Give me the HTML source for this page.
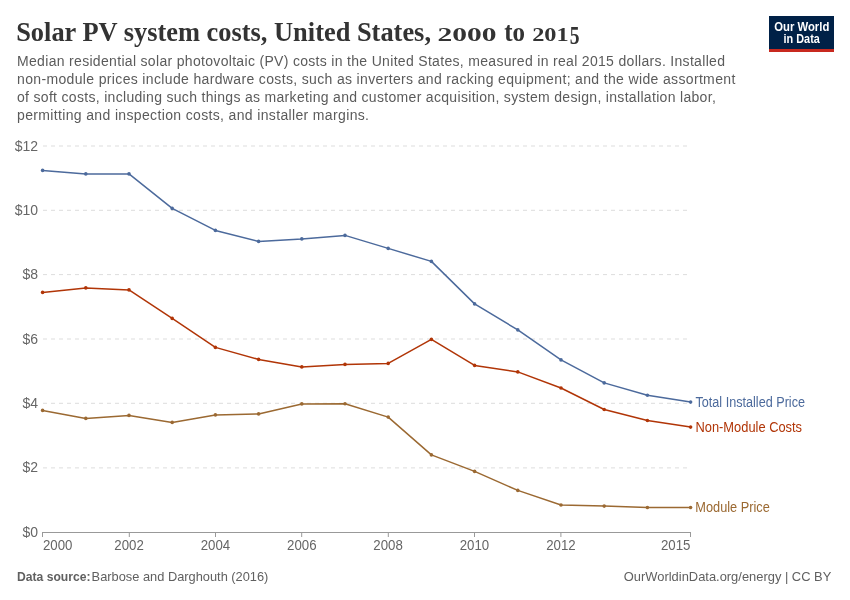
<!DOCTYPE html>
<html><head><meta charset="utf-8">
<style>
html,body{margin:0;padding:0;background:#fff;width:850px;height:600px;overflow:hidden}
svg{display:block;will-change:transform}
.t{font-family:"Liberation Serif",serif;font-weight:bold;fill:#333}
.s{font-family:"Liberation Sans",sans-serif;fill:#5b5b5b}
.ax{font-family:"Liberation Sans",sans-serif;fill:#666;font-size:14px}
</style></head>
<body>
<svg width="850" height="600" viewBox="0 0 850 600">
<rect width="850" height="600" fill="#fff"/>
<!-- title -->
<g class="t">
<text x="16.2" y="40.5" font-size="28" textLength="414.8" lengthAdjust="spacingAndGlyphs">Solar PV system costs, United States,</text>
<text x="437.5" y="40.5" font-size="19" textLength="59" lengthAdjust="spacingAndGlyphs">2000</text>
<text x="504.2" y="40.5" font-size="28" textLength="20.8" lengthAdjust="spacingAndGlyphs">to</text>
<text x="532.2" y="40.5" font-size="19" textLength="36.5" lengthAdjust="spacingAndGlyphs">201</text>
<text x="569.8" y="44" font-size="25" textLength="9.8" lengthAdjust="spacingAndGlyphs">5</text>
</g>
<!-- subtitle -->
<g class="s" font-size="14">
<text x="17" y="66.2" textLength="708" lengthAdjust="spacing">Median residential solar photovoltaic (PV) costs in the United States, measured in real 2015 dollars. Installed</text>
<text x="17" y="84.3" textLength="718.3" lengthAdjust="spacing">non-module prices include hardware costs, such as inverters and racking equipment; and the wide assortment</text>
<text x="17" y="102.2" textLength="698.8" lengthAdjust="spacing">of soft costs, including such things as marketing and customer acquisition, system design, installation labor,</text>
<text x="17" y="120.2" textLength="352" lengthAdjust="spacing">permitting and inspection costs, and installer margins.</text>
</g>
<!-- logo -->
<rect x="769" y="16" width="65" height="36" fill="#002147"/>
<rect x="769" y="49" width="65" height="3" fill="#C8291F"/>
<g font-family="Liberation Sans,sans-serif" font-weight="bold" fill="#fff" font-size="12">
<text x="774.3" y="30.8" textLength="55" lengthAdjust="spacingAndGlyphs">Our World</text>
<text x="783.6" y="42.9" textLength="36.2" lengthAdjust="spacingAndGlyphs">in Data</text>
</g>
<!-- gridlines -->
<g stroke="#ddd" stroke-width="1" stroke-dasharray="4,4">
<line x1="43" y1="146" x2="690" y2="146"/>
<line x1="43" y1="210.3" x2="690" y2="210.3"/>
<line x1="43" y1="274.6" x2="690" y2="274.6"/>
<line x1="43" y1="339" x2="690" y2="339"/>
<line x1="43" y1="403.3" x2="690" y2="403.3"/>
<line x1="43" y1="467.9" x2="690" y2="467.9"/>
</g>
<!-- y labels -->
<g class="ax" text-anchor="end">
<text x="38" y="151">$12</text>
<text x="38" y="215">$10</text>
<text x="38" y="279">$8</text>
<text x="38" y="343.5">$6</text>
<text x="38" y="408">$4</text>
<text x="38" y="472">$2</text>
<text x="38" y="537">$0</text>
</g>
<!-- x axis -->
<line x1="42" y1="532.5" x2="691" y2="532.5" stroke="#999" stroke-width="1"/>
<g stroke="#999" stroke-width="1">
<line x1="42.5" y1="532" x2="42.5" y2="537"/>
<line x1="129.3" y1="532" x2="129.3" y2="537"/>
<line x1="215.5" y1="532" x2="215.5" y2="537"/>
<line x1="301.7" y1="532" x2="301.7" y2="537"/>
<line x1="388.3" y1="532" x2="388.3" y2="537"/>
<line x1="474.5" y1="532" x2="474.5" y2="537"/>
<line x1="560.9" y1="532" x2="560.9" y2="537"/>
<line x1="690.5" y1="532" x2="690.5" y2="537"/>
</g>
<g class="ax">
<text x="43" y="550.4" textLength="29.5" lengthAdjust="spacingAndGlyphs">2000</text>
<text x="129.1" y="550.4" text-anchor="middle" textLength="29.5" lengthAdjust="spacingAndGlyphs">2002</text>
<text x="215.4" y="550.4" text-anchor="middle" textLength="29.5" lengthAdjust="spacingAndGlyphs">2004</text>
<text x="301.8" y="550.4" text-anchor="middle" textLength="29.5" lengthAdjust="spacingAndGlyphs">2006</text>
<text x="388.1" y="550.4" text-anchor="middle" textLength="29.5" lengthAdjust="spacingAndGlyphs">2008</text>
<text x="474.5" y="550.4" text-anchor="middle" textLength="29.5" lengthAdjust="spacingAndGlyphs">2010</text>
<text x="560.9" y="550.4" text-anchor="middle" textLength="29.5" lengthAdjust="spacingAndGlyphs">2012</text>
<text x="690.4" y="550.4" text-anchor="end" textLength="29.5" lengthAdjust="spacingAndGlyphs">2015</text>
</g>
<!-- lines -->
<g fill="none" stroke-width="1.5" stroke-linejoin="round">
<!--L-->
<polyline stroke="#4C6A9C" points="42.60,170.40 85.80,173.90 129.00,173.90 172.20,208.40 215.40,230.40 258.60,241.40 301.80,238.90 345.00,235.40 388.20,248.40 431.40,261.40 474.60,303.90 517.80,329.90 561.00,359.90 604.20,382.90 647.40,395.30 690.60,402.10"/>
<polyline stroke="#B13507" points="42.60,292.40 85.80,287.90 129.00,289.90 172.20,318.40 215.40,347.40 258.60,359.40 301.80,366.90 345.00,364.40 388.20,363.40 431.40,339.40 474.60,365.40 517.80,371.90 561.00,388.00 604.20,409.50 647.40,420.50 690.60,427.10"/>
<polyline stroke="#9B6932" points="42.60,410.40 85.80,418.40 129.00,415.40 172.20,422.40 215.40,414.90 258.60,413.90 301.80,403.90 345.00,403.70 388.20,417.10 431.40,454.90 474.60,471.40 517.80,490.40 561.00,505.00 604.20,506.10 647.40,507.50 690.60,507.50"/>
<!--/L-->
</g>
<!--D-->
<g fill="#4C6A9C"><circle cx="42.60" cy="170.40" r="1.8"/><circle cx="85.80" cy="173.90" r="1.8"/><circle cx="129.00" cy="173.90" r="1.8"/><circle cx="172.20" cy="208.40" r="1.8"/><circle cx="215.40" cy="230.40" r="1.8"/><circle cx="258.60" cy="241.40" r="1.8"/><circle cx="301.80" cy="238.90" r="1.8"/><circle cx="345.00" cy="235.40" r="1.8"/><circle cx="388.20" cy="248.40" r="1.8"/><circle cx="431.40" cy="261.40" r="1.8"/><circle cx="474.60" cy="303.90" r="1.8"/><circle cx="517.80" cy="329.90" r="1.8"/><circle cx="561.00" cy="359.90" r="1.8"/><circle cx="604.20" cy="382.90" r="1.8"/><circle cx="647.40" cy="395.30" r="1.8"/><circle cx="690.60" cy="402.10" r="1.8"/></g>
<g fill="#B13507"><circle cx="42.60" cy="292.40" r="1.8"/><circle cx="85.80" cy="287.90" r="1.8"/><circle cx="129.00" cy="289.90" r="1.8"/><circle cx="172.20" cy="318.40" r="1.8"/><circle cx="215.40" cy="347.40" r="1.8"/><circle cx="258.60" cy="359.40" r="1.8"/><circle cx="301.80" cy="366.90" r="1.8"/><circle cx="345.00" cy="364.40" r="1.8"/><circle cx="388.20" cy="363.40" r="1.8"/><circle cx="431.40" cy="339.40" r="1.8"/><circle cx="474.60" cy="365.40" r="1.8"/><circle cx="517.80" cy="371.90" r="1.8"/><circle cx="561.00" cy="388.00" r="1.8"/><circle cx="604.20" cy="409.50" r="1.8"/><circle cx="647.40" cy="420.50" r="1.8"/><circle cx="690.60" cy="427.10" r="1.8"/></g>
<g fill="#9B6932"><circle cx="42.60" cy="410.40" r="1.8"/><circle cx="85.80" cy="418.40" r="1.8"/><circle cx="129.00" cy="415.40" r="1.8"/><circle cx="172.20" cy="422.40" r="1.8"/><circle cx="215.40" cy="414.90" r="1.8"/><circle cx="258.60" cy="413.90" r="1.8"/><circle cx="301.80" cy="403.90" r="1.8"/><circle cx="345.00" cy="403.70" r="1.8"/><circle cx="388.20" cy="417.10" r="1.8"/><circle cx="431.40" cy="454.90" r="1.8"/><circle cx="474.60" cy="471.40" r="1.8"/><circle cx="517.80" cy="490.40" r="1.8"/><circle cx="561.00" cy="505.00" r="1.8"/><circle cx="604.20" cy="506.10" r="1.8"/><circle cx="647.40" cy="507.50" r="1.8"/><circle cx="690.60" cy="507.50" r="1.8"/></g>
<!--/D-->
<!-- labels -->
<g font-family="Liberation Sans,sans-serif" font-size="14">
<text x="695.5" y="406.9" fill="#4C6A9C" textLength="109.5" lengthAdjust="spacingAndGlyphs">Total Installed Price</text>
<text x="695.5" y="431.7" fill="#B13507" textLength="106.5" lengthAdjust="spacingAndGlyphs">Non-Module Costs</text>
<text x="695.3" y="512.2" fill="#9B6932" textLength="74.5" lengthAdjust="spacingAndGlyphs">Module Price</text>
</g>
<!-- footer -->
<g class="s" font-size="13" style="fill:#606060">
<text x="17" y="581" font-weight="bold" textLength="73.5" lengthAdjust="spacingAndGlyphs">Data source:</text>
<text x="91.6" y="581" textLength="176.8" lengthAdjust="spacingAndGlyphs">Barbose and Darghouth (2016)</text>
<text x="623.8" y="581" textLength="207.5" lengthAdjust="spacingAndGlyphs">OurWorldinData.org/energy | CC BY</text>
</g>
</svg>
</body></html>
